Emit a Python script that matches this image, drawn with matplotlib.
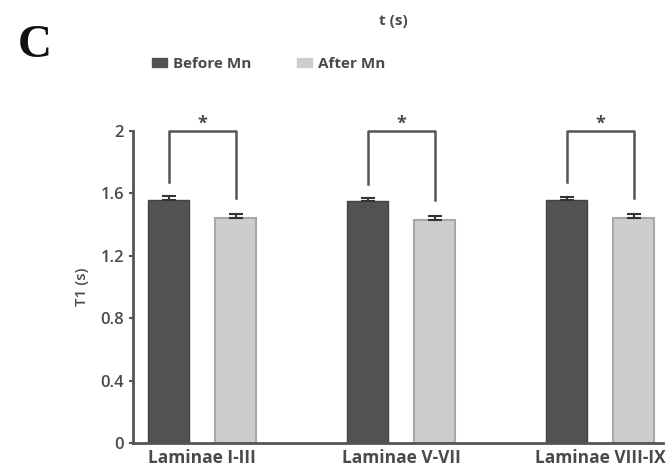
import numpy as np
import matplotlib.pyplot as plt
from matplotlib.patches import Patch

plt.rcParams['font.family'] = ['Open Sans', 'DejaVu Sans']

# data
groups = ['Laminae I-III', 'Laminae V-VII', 'Laminae VIII-IX']
before = [1.56, 1.55, 1.56]
before_err = [0.025, 0.02, 0.02]
after = [1.44, 1.43, 1.44]
after_err = [0.025, 0.025, 0.025]
yticks = [0, 0.4, 0.8, 1.2, 1.6, 2]
ytick_labels = ['0', '0.4', '0.8', '1.2', '1.6', '2']

dark = '#525252'
light = '#cdcdcd'
txt = '#4a4a4a'

fig = plt.figure(figsize=(6.72, 4.75), dpi=100)
ax = fig.add_axes([0.198, 0.0674, 0.789, 0.6568])

x = np.arange(len(groups))
w = 0.205
off = 0.168

ax.bar(x - off, before, w, color=dark, edgecolor='#444444', lw=1, zorder=2)
ax.bar(x + off, after, w, color=light, edgecolor='#a8a8a8', lw=1.5, zorder=2)
ax.errorbar(x - off, before, yerr=[np.zeros(3), before_err], fmt='none',
            ecolor='#333333', elinewidth=1.5, capsize=5, capthick=1.5, zorder=3)
ax.errorbar(x + off, after, yerr=[np.zeros(3), after_err], fmt='none',
            ecolor='#333333', elinewidth=1.5, capsize=5, capthick=1.5, zorder=3)

# significance brackets
for i in range(len(groups)):
    xl, xr = x[i] - off, x[i] + off
    ax.plot([xl, xl, xr, xr], [before[i] + 0.11, 2.0, 2.0, after[i] + 0.13],
            color='#555555', lw=1.8, clip_on=False, zorder=4)
    ax.text(x[i], 2.045, '*', ha='center', va='center', fontsize=13,
            fontweight='bold', color=txt)

ax.set_xlim(-0.347, 2.317)
ax.set_ylim(0, 2)
ax.set_yticks(yticks)
ax.set_yticklabels(ytick_labels)
ax.set_xticks(x)
ax.set_xticklabels(groups, fontweight='bold')
ax.tick_params(axis='x', length=0, pad=4, labelsize=12.5, colors=txt)
ax.tick_params(axis='y', length=3, width=1.5, direction='out', labelsize=12,
               colors=txt, color='#555555')
for lbl in ax.get_yticklabels():
    lbl.set_fontweight('semibold')
for s in ['top', 'right']:
    ax.spines[s].set_visible(False)
for s in ['left', 'bottom']:
    ax.spines[s].set_color('#555555')
    ax.spines[s].set_linewidth(2)
ax.set_ylabel('T1 (s)', fontsize=11, fontweight='semibold', color=txt, labelpad=8)

# header
fig.text(0.027, 0.903, 'C', fontsize=34, fontweight='bold',
         family='Liberation Serif', color='#111111', va='center')
fig.text(0.585, 0.955, 't (s)', fontsize=11, fontweight='bold', color=txt,
         ha='center', va='center')

# legend
handles = [Patch(facecolor=dark, edgecolor=dark), Patch(facecolor=light, edgecolor=light)]
fig.legend(handles, ['Before Mn', 'After Mn'], loc='center left',
           bbox_to_anchor=(0.205, 0.865), ncol=2, frameon=False,
           handlelength=1.0, handleheight=0.5, handletextpad=0.4,
           columnspacing=3.0, prop={'size': 11, 'weight': 'bold'},
           labelcolor=txt)

fig.savefig('out.png', dpi=100)
